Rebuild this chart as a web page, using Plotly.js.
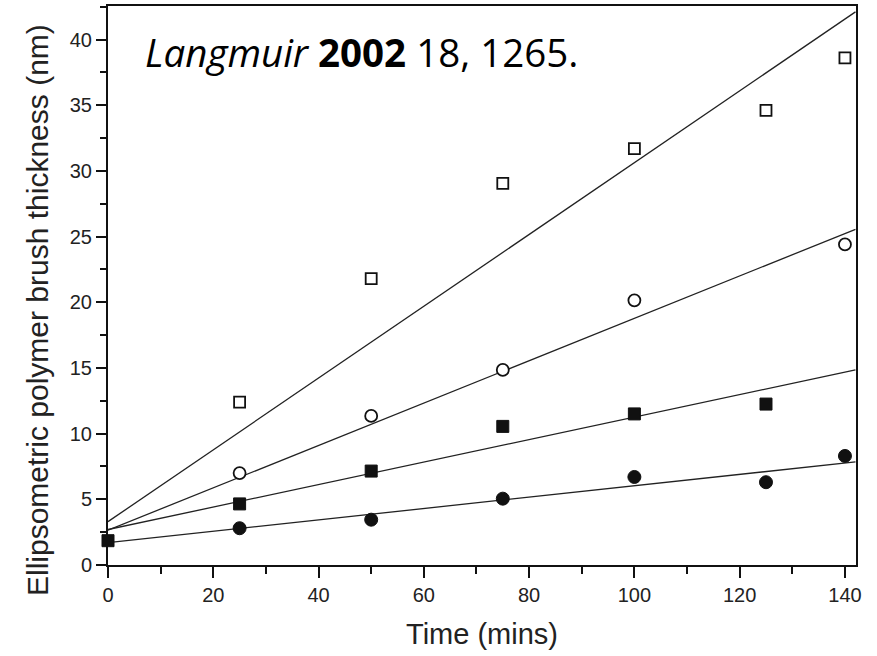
<!DOCTYPE html>
<html>
<head>
<meta charset="utf-8">
<script src="https://cdn.plot.ly/plotly-3.0.1.min.js"></script>
<style>html,body{margin:0;padding:0;background:#fff;}#chart{width:877px;height:656px;}</style>
</head>
<body>
<div id="chart"></div>
<script>
// Time (mins)
const timeOpenSquare = [25, 50, 75, 100, 125, 140];
const openSquare = [12.4, 21.8, 29.05, 31.7, 34.6, 38.6];
const timeOpenCircle = [25, 50, 75, 100, 140];
const openCircle = [7.0, 11.35, 14.85, 20.15, 24.4];
const timeFilledSquare = [0, 25, 50, 75, 100, 125];
const filledSquare = [1.85, 4.65, 7.15, 10.55, 11.5, 12.25];
const timeFilledCircle = [25, 50, 75, 100, 125, 140];
const filledCircle = [2.8, 3.45, 5.05, 6.7, 6.3, 8.3];

// linear fit lines (end points at x = 0 and x = 142)
const fitX = [0, 142];
const fitOpenSquare = [3.3, 42.1];
const fitOpenCircle = [2.65, 25.55];
const fitFilledSquare = [2.7, 14.85];
const fitFilledCircle = [1.7, 7.85];

const xTicks = [0, 20, 40, 60, 80, 100, 120, 140];
const yTicks = [0, 5, 10, 15, 20, 25, 30, 35, 40];

const lineStyle = {color: '#222', width: 1.3};
function fit(y) {
  return {x: fitX, y: y, mode: 'lines', line: lineStyle, hoverinfo: 'skip', showlegend: false};
}
function pts(x, y, symbol, open, size) {
  return {x: x, y: y, mode: 'markers', cliponaxis: false, showlegend: false,
    marker: {symbol: symbol, size: size, color: open ? '#fff' : '#111',
      line: {color: '#111', width: open ? 1.8 : 1}}};
}

const data = [
  fit(fitOpenSquare), fit(fitOpenCircle), fit(fitFilledSquare), fit(fitFilledCircle),
  pts(timeOpenSquare, openSquare, 'square', true, 11),
  pts(timeOpenCircle, openCircle, 'circle', true, 12),
  pts(timeFilledSquare, filledSquare, 'square', false, 12),
  pts(timeFilledCircle, filledCircle, 'circle', false, 13)
];

const tickFont = {family: 'Liberation Sans, Arial, sans-serif', size: 20, color: '#222'};
const titleFont = {family: 'Liberation Sans, Arial, sans-serif', size: 29, color: '#222'};

const layout = {
  width: 877, height: 656,
  margin: {l: 108, r: 21, t: 6, b: 91},
  paper_bgcolor: '#fff', plot_bgcolor: '#fff',
  showlegend: false,
  xaxis: {
    range: [0, 142.1], tickvals: xTicks, ticktext: xTicks.map(String),
    showline: true, mirror: true, linecolor: '#111', linewidth: 2,
    ticks: 'outside', ticklen: 11, tickwidth: 2, tickcolor: '#111',
    minor: {dtick: 10, tick0: 0, ticks: 'outside', ticklen: 7, tickwidth: 2, tickcolor: '#111', showgrid: false},
    showgrid: false, zeroline: false, tickfont: tickFont,
    title: {text: 'Time (mins)', font: titleFont, standoff: 19},
    automargin: false
  },
  yaxis: {
    range: [0, 42.55], tickvals: yTicks, ticktext: yTicks.map(String),
    showline: true, mirror: true, linecolor: '#111', linewidth: 2,
    ticks: 'outside', ticklen: 10, tickwidth: 2, tickcolor: '#111',
    minor: {dtick: 2.5, tick0: 0, ticks: 'outside', ticklen: 6, tickwidth: 2, tickcolor: '#111', showgrid: false},
    showgrid: false, zeroline: false, tickfont: tickFont,
    automargin: false
  },
  annotations: [{
    xref: 'paper', yref: 'paper', x: 0.047, y: 0.917, xanchor: 'left', yanchor: 'middle',
    showarrow: false,
    text: '<i>Langmuir</i> <b>2002</b> 18, 1265.',
    font: {family: 'Open Sans, sans-serif', size: 38.5, color: '#000'}
  }, {
    xref: 'paper', yref: 'paper', x: -0.095, y: 0.456, xanchor: 'center', yanchor: 'middle',
    textangle: -90, showarrow: false,
    text: 'Ellipsometric polymer brush thickness (nm)',
    font: {family: 'Liberation Sans, Arial, sans-serif', size: 30, color: '#222'}
  }]
};

Plotly.newPlot('chart', data, layout, {displayModeBar: false, staticPlot: true});
</script>
</body>
</html>
